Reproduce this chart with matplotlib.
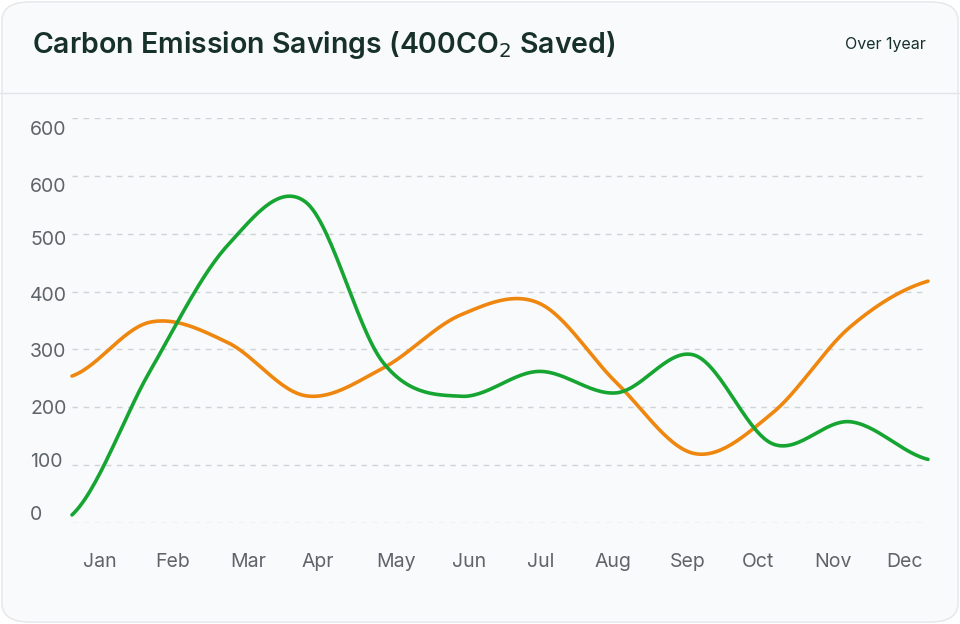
import numpy as np
import matplotlib
matplotlib.use("Agg")
from matplotlib import pyplot
from matplotlib.patches import FancyBboxPatch

pyplot.rcParams["font.family"] = ["Inter", "DejaVu Sans"]

months = ["Jan", "Feb", "Mar", "Apr", "May", "Jun", "Jul", "Aug", "Sep", "Oct", "Nov", "Dec"]
orange_vals = [254, 347, 312, 220, 268, 360, 380, 242, 120, 190, 339, 418]
green_vals = [14, 262, 480, 555, 277, 219, 262, 225, 290, 137, 175, 110]
ytick_vals = [0, 100, 200, 300, 400, 500, 600, 700]
ytick_labels = ["0", "100", "200", "300", "400", "500", "600", "600"]

W, H = 960, 624


def smooth(y, n=30):
    # Catmull-Rom for drawing a smooth curve through the read points
    y = np.asarray(y, float)
    p = np.concatenate([[y[0]], y, [y[-1]]])
    xs, ys = [], []
    for i in range(len(y) - 1):
        t = np.linspace(0, 1, n, endpoint=False)
        p0, p1, p2, p3 = p[i], p[i + 1], p[i + 2], p[i + 3]
        v = 0.5 * (2 * p1 + (-p0 + p2) * t + (2 * p0 - 5 * p1 + 4 * p2 - p3) * t ** 2
                   + (-p0 + 3 * p1 - 3 * p2 + p3) * t ** 3)
        xs.append(i + t)
        ys.append(v)
    xs.append([len(y) - 1])
    ys.append([y[-1]])
    return np.concatenate(xs), np.concatenate(ys)


fig = pyplot.figure(figsize=(W / 100, H / 100), dpi=100)
fig.patch.set_facecolor("white")
card = FancyBboxPatch((0.002, 0.003), 0.996, 0.994, boxstyle="round,pad=0,rounding_size=0.03",
                      transform=fig.transFigure, facecolor="#f8fafc", edgecolor="#e3e7ea", lw=1, zorder=-10)
fig.patches.append(card)
fig.add_artist(pyplot.Line2D([0, 1], [1 - 93 / H] * 2, color="#e3e6e8", lw=1,
                             transform=fig.transFigure, zorder=-5))
fig.text(32 / W, 1 - 45 / H, "Carbon Emission Savings (400CO$_2$ Saved)", fontsize=20.5, fontweight="semibold",
         color="#17302a", va="center")
fig.text(926 / W, 1 - 45 / H, "Over 1year", fontsize=11.5, color="#17302a", va="center", ha="right")

ax = fig.add_axes([72 / W, 1 - 523 / H, (928 - 72) / W, (523 - 118) / H])
ax.set_xlim(0, 11)
ax.set_ylim(0, 700)
for v in ytick_vals:
    ax.axhline(v, color="#cfd3d6", lw=1, ls=(0, (4, 4)), zorder=0)
for s in ax.spines.values():
    s.set_visible(False)
ax.set_xticks([])
ax.set_yticks([])
ax.patch.set_visible(False)

xs, ys = smooth(orange_vals)
ax.plot(xs, ys, color="#ef870f", lw=2.6, solid_capstyle="round", clip_on=False)
xs, ys = smooth(green_vals)
ax.plot(xs, ys, color="#17a532", lw=2.6, solid_capstyle="round", clip_on=False)

ylab_px = [515, 462, 409, 352, 296, 240, 187, 130]
for lab, py in zip(ytick_labels, ylab_px):
    fig.text(30 / W, 1 - py / H, lab, fontsize=14, color="#5f6468", va="center", ha="left")
xlab_px = [100, 173, 248, 318, 396, 469, 541, 613, 688, 758, 833, 905]
for lab, px in zip(months, xlab_px):
    fig.text(px / W, 1 - 562 / H, lab, fontsize=14, color="#5f6468", va="center", ha="center")

fig.savefig("out.png", dpi=100)
